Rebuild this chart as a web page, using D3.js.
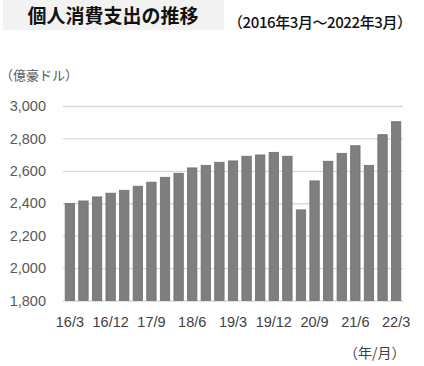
<!DOCTYPE html>
<html><head><meta charset="utf-8">
<script src="https://cdn.jsdelivr.net/npm/d3@7"></script>
<style>body{margin:0;background:#fff;}svg{display:block;font-family:"Open Sans","Noto Sans CJK JP",sans-serif;}</style>
</head><body><svg id="c" width="424" height="366"></svg>
<script>
const categories = ["16/3","16/6","16/9","16/12","17/3","17/6","17/9","17/12","18/3","18/6","18/9","18/12","19/3","19/6","19/9","19/12","20/3","20/6","20/9","20/12","21/3","21/6","21/9","21/12","22/3"];
const values = [2398,2414,2439,2462,2480,2505,2530,2560,2585,2618,2634,2653,2661,2690,2698,2714,2690,2359,2538,2659,2708,2755,2634,2823,2903];
const yTicks = [1800,2000,2200,2400,2600,2800,3000];
const xTickLabels = ["16/3","16/12","17/9","18/6","19/3","19/12","20/9","21/6","22/3"];

(function(){
const svg = d3.select("#c");
const pl = 63, pr = 403, pt = 106, pb = 300.5;
const x = d3.scaleBand().domain(categories).range([pl, pr]).paddingInner(0.31).paddingOuter(0.16);
const y = d3.scaleLinear().domain([1800, 3000]).range([pb, pt]);

// title box
svg.append("rect").attr("x",3).attr("y",0).attr("width",221).attr("height",30).attr("fill","#f2f2f2");
svg.append("text").attr("x",113).attr("y",23).attr("text-anchor","middle")
  .attr("font-size",19).attr("font-weight","bold").attr("fill","#111")
  .attr("font-family","'Noto Sans CJK JP',sans-serif").text("個人消費支出の推移");
svg.append("text").attr("x",228).attr("y",28)
  .attr("font-size",15).attr("font-weight","500").attr("fill","#111")
  .attr("textLength",184).attr("lengthAdjust","spacing")
  .attr("font-family","'Noto Sans CJK JP',sans-serif").text("（2016年3月～2022年3月）");
svg.append("text").attr("x",0).attr("y",80)
  .attr("font-size",13).attr("fill","#595959")
  .attr("font-family","'Noto Sans CJK JP',sans-serif").text("（億豪ドル）");

// grid
const yAxis = d3.axisLeft(y).tickValues(yTicks).tickSize(-(pr-pl)).tickFormat(d3.format(","));
const gy = svg.append("g").attr("transform",`translate(${pl},0)`).call(yAxis);
gy.select(".domain").remove();
gy.selectAll(".tick line").attr("stroke","#d9d9d9").attr("stroke-width",1.3);
gy.selectAll(".tick text").attr("x",-17).attr("font-size",14.5).attr("fill","#595959");

// bars
svg.append("g").selectAll("rect").data(values).join("rect")
  .attr("x",(d,i)=>x(categories[i]))
  .attr("y",d=>y(d))
  .attr("width",x.bandwidth())
  .attr("height",d=>y(1800)-y(d))
  .attr("fill","#7f7f7f").attr("stroke","#6f6f6f").attr("stroke-width",0.8);

// x axis
const xAxis = d3.axisBottom(x).tickValues(xTickLabels).tickSize(0);
const gx = svg.append("g").attr("transform",`translate(0,${pb})`).call(xAxis);
gx.select(".domain").remove();
gx.selectAll(".tick text").attr("dy",0).attr("y",26).attr("font-size",14.5).attr("fill","#404040");

svg.append("text").attr("x",344).attr("y",358)
  .attr("font-size",14).attr("fill","#404040")
  .attr("font-family","'Noto Sans CJK JP',sans-serif").text("（年/月）");
})();
</script></body></html>
